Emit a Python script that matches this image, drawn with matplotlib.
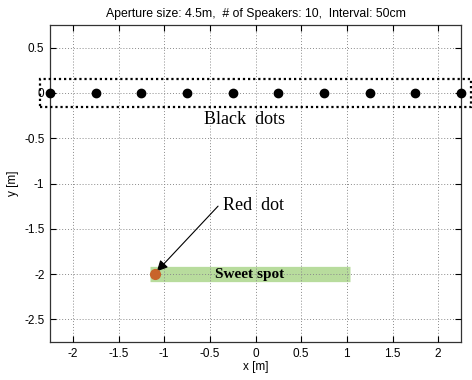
import matplotlib
matplotlib.use("Agg")
import matplotlib.pyplot as plt
from matplotlib.patches import Rectangle

speaker_x = [-2.25, -1.75, -1.25, -0.75, -0.25, 0.25, 0.75, 1.25, 1.75, 2.25]
speaker_y = [0, 0, 0, 0, 0, 0, 0, 0, 0, 0]
listener = (-1.1, -2.0)
sweet_spot_x = [-1.15, 1.04]
sweet_spot_y = [-2.0, -2.0]
xticks = [-2, -1.5, -1, -0.5, 0, 0.5, 1, 1.5, 2]
yticks = [0.5, 0, -0.5, -1, -1.5, -2, -2.5]

plt.rcParams['font.family'] = ['Liberation Sans', 'DejaVu Sans']
fig = plt.figure(figsize=(4.72, 3.8), dpi=100)
ax = fig.add_axes([50/472, 1-342/380, 411/472, 317/380])

ax.set_xlim(-2.25, 2.25)
ax.set_ylim(-2.75, 0.75)
ax.set_xticks(xticks)
ax.set_xticklabels([f"{t:g}" for t in xticks])
ax.set_yticks(yticks)
ax.set_yticklabels([f"{t:g}" for t in yticks])
ax.tick_params(direction='in', length=4, labelsize=8.5, top=True, right=True, width=0.8, pad=4)
ax.grid(True, linestyle=(0, (1, 2)), color='#8a8a8a', linewidth=0.7)
ax.set_axisbelow(False)
for s in ax.spines.values():
    s.set_linewidth(0.9)
    s.set_color('#333333')

# sweet spot bar
ax.plot(sweet_spot_x, sweet_spot_y, color='#a6d485', linewidth=11, solid_capstyle='butt', alpha=0.8, zorder=1.5)
ax.text(-0.06, -2.0, 'Sweet spot', family=['Liberation Serif'], fontweight='bold',
        fontsize=11, ha='center', va='center', zorder=5)
# speakers
ax.plot(speaker_x, speaker_y, 'o', color='black', markersize=6, clip_on=False, zorder=4)
# listener
ax.plot([listener[0]], [listener[1]], 'o', color='#c8642a', markersize=7, zorder=4)

# dotted box around speakers
rect = Rectangle((-2.36, -0.15), 4.72, 0.30, fill=False, linestyle=(0, (1, 1.3)),
                 linewidth=1.6, edgecolor='black', clip_on=False, zorder=5)
ax.add_patch(rect)
ax.text(-0.115, -0.29, 'Black  dots', family=['Liberation Serif'], fontsize=13,
        ha='center', va='center')

ax.text(-0.36, -1.24, 'Red  dot', family=['Liberation Serif'], fontsize=13,
        ha='left', va='center')
ax.annotate('', xy=(listener[0] + 0.02, listener[1] + 0.03), xytext=(-0.41, -1.25),
            arrowprops=dict(arrowstyle='-|>', color='black', lw=0.8, shrinkA=0, shrinkB=0,
                            mutation_scale=16))

ax.set_xlabel('x [m]', fontsize=8.5, labelpad=1)
ax.set_ylabel('y [m]', fontsize=8.5, labelpad=4)
ax.set_title('Aperture size: 4.5m,  # of Speakers: 10,  Interval: 50cm', fontsize=8.8, pad=6)

fig.savefig('out.png', dpi=100)
